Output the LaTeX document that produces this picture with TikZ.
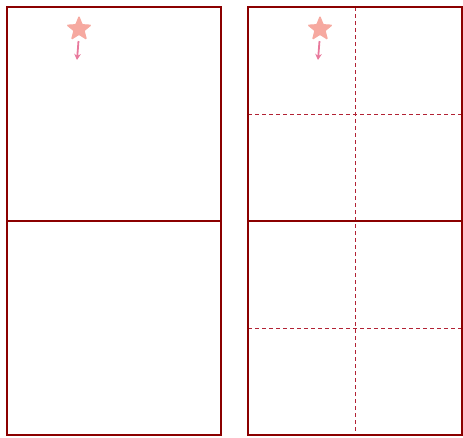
\documentclass[tikz,border=0pt]{standalone}
\usetikzlibrary{shapes.geometric,arrows.meta}
\definecolor{frame}{HTML}{8B0000}
\definecolor{dashc}{HTML}{B22234}
\definecolor{starc}{HTML}{F6A9A0}
\definecolor{arrc}{HTML}{E8799C}
\tikzset{
  panel/.style={draw=frame, line width=2pt},
  fold/.style={draw=dashc, line width=0.9pt, dash pattern=on 4pt off 3pt},
  mark star/.style={star, star points=5, star point ratio=2.3, minimum size=25pt, inner sep=0pt, fill=starc, draw=starc, line width=1pt, rounded corners=0.8pt},
  move/.style={draw=arrc, line width=1.8pt, -{Stealth[length=6pt,width=6.5pt]}}
}
\begin{document}
\begin{tikzpicture}[x=1pt,y=-1pt]
\useasboundingbox (0,0) rectangle (463,437);
% left sheet
\draw[panel] (7,7) rectangle (221,435);
\draw[panel] (7,221) -- (221,221);
% right sheet
\draw[fold] (355,7) -- (355,435);
\draw[fold] (248,114) -- (462,114);
\draw[fold] (248,328) -- (462,328);
\draw[panel] (248,7) rectangle (462,435);
\draw[panel] (248,221) -- (462,221);
% stars
\node[mark star] (s1) at (79,29) {};
\coordinate (e1) at (77,60);
\draw[move] (78.5,41) -- (e1);
\node[mark star] (s2) at (320,29) {};
\coordinate (e2) at (318,60);
\draw[move] (319.5,41) -- (e2);
\end{tikzpicture}
\end{document}
